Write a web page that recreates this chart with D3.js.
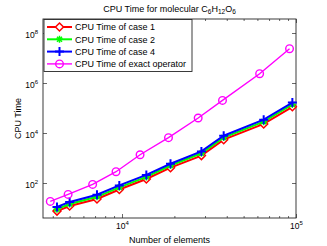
<!DOCTYPE html>
<html>
<head>
<meta charset="utf-8">
<script src="https://cdn.jsdelivr.net/npm/d3@7"></script>
<style>
  body { margin: 0; background: #fff; }
  text { font-family: "Liberation Sans", Arial, sans-serif; }
</style>
</head>
<body>
<div id="chart"></div>
<script>
// element counts (two different meshes sets for exact vs cases)
var elemsExact = [3870, 4900, 6780, 9240, 12700, 18500, 27400, 37800, 61800, 91800];
var elemsCase = [4230, 5000, 7180, 9650, 13800, 19000, 28600, 38400, 65200, 95300];

// CPU times
var case1 = [7.5, 12, 23, 55, 145, 410, 1250, 5400, 23000, 112000];
var case2 = [9, 14.5, 28, 67, 175, 500, 1550, 6600, 28500, 138000];
var case4 = [11, 17.5, 34, 80, 210, 590, 1840, 7800, 34000, 165000];
var exact = [18.4, 35, 88, 283, 1350, 6500, 39800, 201000, 2350000, 23500000];

var seriesNames = ["CPU Time of case 1", "CPU Time of case 2", "CPU Time of case 4", "CPU Time of exact operator"];
var yTicks = [2, 4, 6, 8];
var xTicks = [4, 5];

var W = 327, H = 246;
var margin = { top: 19, right: 31, bottom: 28, left: 43 },
    width = W - margin.left - margin.right,
    height = H - margin.top - margin.bottom;

var svg = d3.select("#chart").append("svg")
    .attr("width", W)
    .attr("height", H);

var g = svg.append("g")
    .attr("transform", "translate(" + margin.left + "," + margin.top + ")");

var x = d3.scaleLog().domain([3515, 1e5]).range([0, width]);
var y = d3.scaleLog().domain([Math.pow(10, 0.6), Math.pow(10, 8.56)]).range([height, 0]);

// minor ticks on x
var xMinor = [];
[1e3, 1e4].forEach(function(b) {
  for (var k = 2; k <= 9; k++) if (k * b >= 3515 && k * b < 1e5) xMinor.push(k * b);
});

var axisColor = "#262626";

// minor ticks bottom/top
g.append("g").attr("transform", "translate(0," + height + ")")
  .call(d3.axisBottom(x).tickValues(xMinor).tickSize(-2).tickFormat(""));
g.append("g")
  .call(d3.axisTop(x).tickValues(xMinor).tickSize(-2).tickFormat(""));

// major x
var xb = g.append("g").attr("transform", "translate(0," + height + ")")
  .call(d3.axisBottom(x).tickValues(xTicks.map(function(p) { return Math.pow(10, p); }))
    .tickSize(-4).tickPadding(7).tickFormat(""));
g.append("g")
  .call(d3.axisTop(x).tickValues(xTicks.map(function(p) { return Math.pow(10, p); }))
    .tickSize(-4).tickFormat(""));

// major y
var yl = g.append("g")
  .call(d3.axisLeft(y).tickValues(yTicks.map(function(p) { return Math.pow(10, p); }))
    .tickSize(-4).tickPadding(5).tickFormat(""));
g.append("g").attr("transform", "translate(" + width + ",0)")
  .call(d3.axisRight(y).tickValues(yTicks.map(function(p) { return Math.pow(10, p); }))
    .tickSize(-4).tickFormat(""));

g.selectAll(".domain").remove();
g.selectAll(".tick line").attr("stroke", axisColor).attr("stroke-width", 0.7);

// tick labels with superscripts
xb.selectAll(".tick").each(function(d) {
  var t = d3.select(this).append("text")
    .attr("y", 11).attr("fill", "#000").attr("font-size", 8.5)
    .attr("text-anchor", "middle");
  t.append("tspan").text("10");
  t.append("tspan").attr("dy", -4).attr("font-size", 6).text(Math.round(Math.log10(d)));
});
yl.selectAll(".tick").each(function(d) {
  var t = d3.select(this).append("text")
    .attr("x", -5).attr("dy", 4).attr("fill", "#000").attr("font-size", 8.5)
    .attr("text-anchor", "end");
  t.append("tspan").text("10");
  t.append("tspan").attr("dy", -4).attr("font-size", 6).text(Math.round(Math.log10(d)));
});

// frame
g.append("rect").attr("width", width).attr("height", height)
  .attr("fill", "none").attr("stroke", axisColor).attr("stroke-width", 0.9);

// marker helpers
function diamond(sel, s) {
  sel.append("path").attr("d", "M0," + (-s) + "L" + s + ",0L0," + s + "L" + (-s) + ",0Z")
    .attr("fill", "#fff").attr("stroke", "#ff0000").attr("stroke-width", 1.5);
}
function star(sel, s, c) {
  var d = s * 0.72;
  sel.append("path").attr("d", "M" + (-s) + ",0H" + s + "M0," + (-s) + "V" + s +
      "M" + (-d) + "," + (-d) + "L" + d + "," + d + "M" + (-d) + "," + d + "L" + d + "," + (-d))
    .attr("stroke", c).attr("stroke-width", 1.5).attr("fill", "none");
}
function plus(sel, s, c) {
  sel.append("path").attr("d", "M" + (-s) + ",0H" + s + "M0," + (-s) + "V" + s)
    .attr("stroke", c).attr("stroke-width", 2).attr("fill", "none");
}
function circle(sel, r, c) {
  sel.append("circle").attr("r", r).attr("fill", "none")
    .attr("stroke", c).attr("stroke-width", 1.4);
}

var series = [
  { xs: elemsCase, ys: case1, color: "#ff0000", width: 2, marker: function(s) { diamond(s, 4); } },
  { xs: elemsCase, ys: case2, color: "#00ff00", width: 2, marker: function(s) { star(s, 3.5, "#00ff00"); } },
  { xs: elemsCase, ys: case4, color: "#0000ff", width: 2, marker: function(s) { plus(s, 4.5, "#0000ff"); } },
  { xs: elemsExact, ys: exact, color: "#ff00ff", width: 1.4, marker: function(s) { circle(s, 3.8, "#ff00ff"); } }
];

var line = d3.line().x(function(d) { return x(d[0]); }).y(function(d) { return y(d[1]); });

series.forEach(function(s) {
  var pts = s.xs.map(function(v, i) { return [v, s.ys[i]]; });
  g.append("path").datum(pts)
    .attr("d", line).attr("fill", "none")
    .attr("stroke", s.color).attr("stroke-width", s.width);
  g.selectAll(null).data(pts).enter().append("g")
    .attr("transform", function(d) { return "translate(" + x(d[0]) + "," + y(d[1]) + ")"; })
    .each(function() { s.marker(d3.select(this)); });
});

// legend
var lg = g.append("g").attr("transform", "translate(1,0.5)");
lg.append("rect").attr("width", 148).attr("height", 52)
  .attr("fill", "#fff").attr("stroke", axisColor).attr("stroke-width", 0.9);
series.forEach(function(s, i) {
  var row = lg.append("g").attr("transform", "translate(0," + (7.5 + i * 12.3) + ")");
  row.append("line").attr("x1", 3).attr("x2", 28)
    .attr("stroke", s.color).attr("stroke-width", s.width);
  var m = row.append("g").attr("transform", "translate(15.5,0)");
  s.marker(m);
  row.append("text").attr("x", 31).attr("dy", 3.2)
    .attr("font-size", 9).attr("fill", "#000").text(seriesNames[i]);
});

// title
var title = svg.append("text")
  .attr("x", margin.left + width / 2).attr("y", 12)
  .attr("text-anchor", "middle").attr("font-size", 9).attr("fill", "#000");
title.append("tspan").text("CPU Time for molecular C");
title.append("tspan").attr("font-size", 6.5).attr("dy", 2).text("6");
title.append("tspan").attr("dy", -2).text("H");
title.append("tspan").attr("font-size", 6.5).attr("dy", 2).text("12");
title.append("tspan").attr("dy", -2).text("O");
title.append("tspan").attr("font-size", 6.5).attr("dy", 2).text("6");

// axis labels
svg.append("text")
  .attr("x", margin.left + width / 2).attr("y", 243)
  .attr("text-anchor", "middle").attr("font-size", 9).attr("fill", "#000")
  .text("Number of elements");
svg.append("text")
  .attr("transform", "translate(21," + (margin.top + height / 2) + ") rotate(-90)")
  .attr("text-anchor", "middle").attr("font-size", 9).attr("fill", "#000")
  .text("CPU Time");
</script>
</body>
</html>
